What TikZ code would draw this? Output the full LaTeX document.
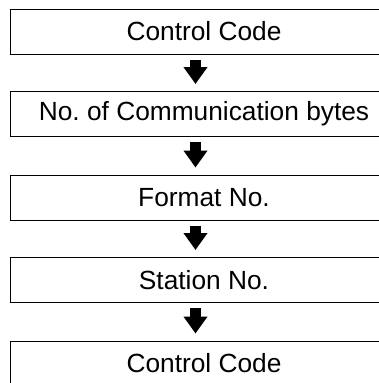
\documentclass[tikz,border=0pt]{standalone}
\usepackage{fontspec}
\setmainfont{Liberation Sans}
\usetikzlibrary{arrows.meta}
\frenchspacing
\begin{document}
\begin{tikzpicture}[x=1pt,y=-1pt,
  stepbox/.style={draw=black, line width=1pt, minimum width=388pt, minimum height=45pt,
    inner sep=0pt, font=\fontsize{26.3}{30}\selectfont},
  flow/.style={line width=11pt, -{Triangle[width=23pt,length=17pt]}}]
\useasboundingbox (0,0) rectangle (379,383);
\clip (0,0) rectangle (379,383);
\node[stepbox] (b1) at (204,31.5) {Control Code};
\node[stepbox] (b2) at (204,114) {No. of Communication bytes};
\node[stepbox] (b3) at (204,197.5) {Format No.};
\node[stepbox] (b4) at (204,280) {Station No.};
\node[stepbox] (b5) at (204,363.5) {Control Code};
\foreach \a/\b in {b1/b2,b2/b3,b3/b4,b4/b5}{
  \draw[flow] ([xshift=-8.5pt,yshift=-5pt]\a.south) -- ([xshift=-8.5pt,yshift=7pt]\b.north);
}
\end{tikzpicture}
\end{document}
